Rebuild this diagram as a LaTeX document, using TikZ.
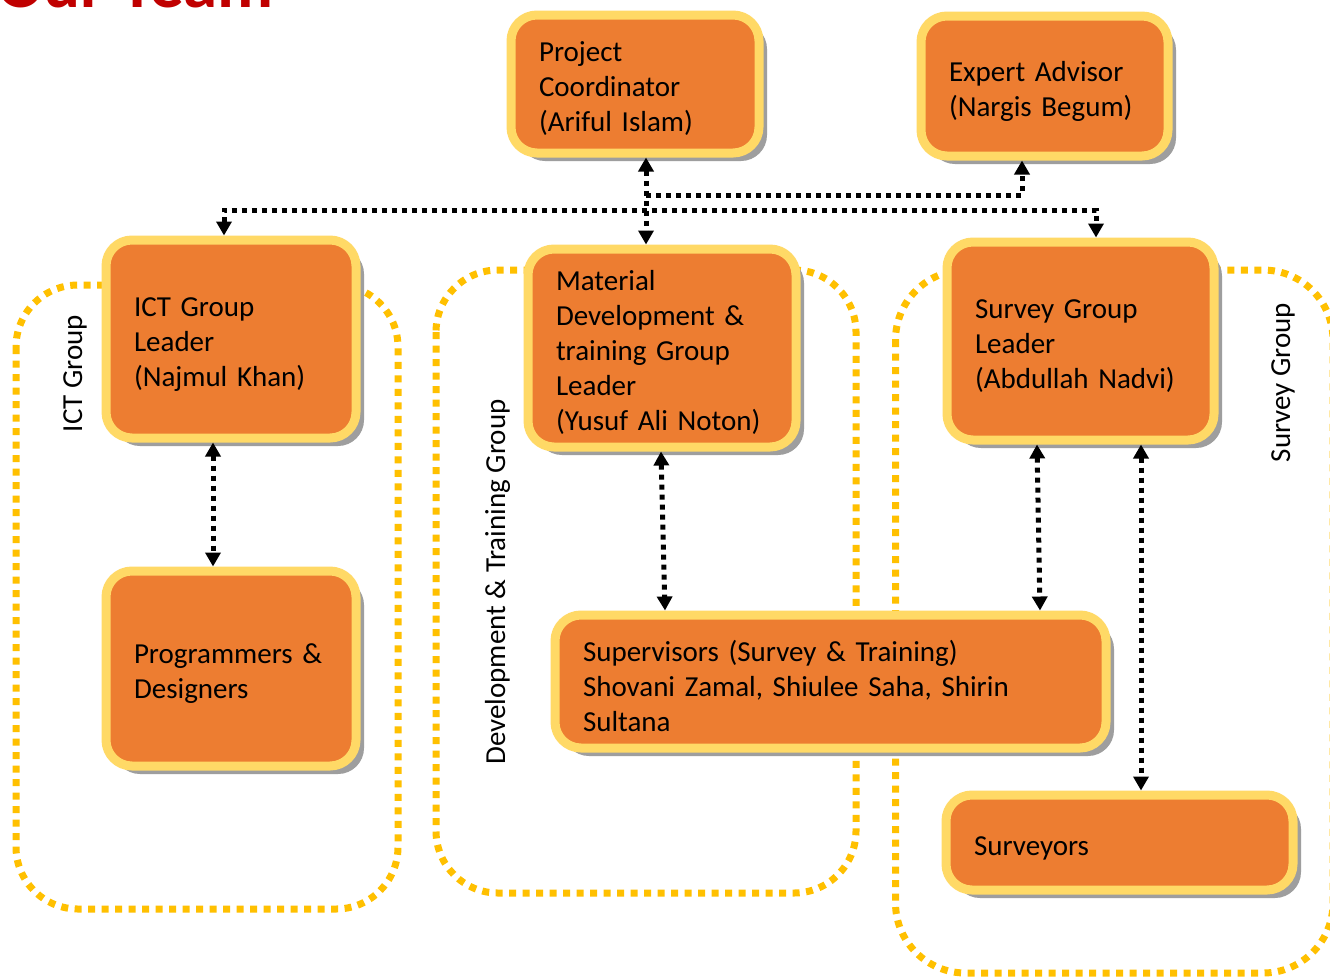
\documentclass[tikz,border=0pt]{standalone}
\usepackage{fontspec}
\setmainfont{Carlito}
\usetikzlibrary{arrows.meta,shadows}
\definecolor{boxorange}{HTML}{ED7D31}
\definecolor{boxyellow}{HTML}{FFD966}
\definecolor{groupyellow}{HTML}{FFC000}
\definecolor{titlered}{HTML}{C00000}
\begin{document}
\begin{tikzpicture}[x=1pt,y=-1pt,
    >={Triangle[width=15pt,length=14pt]},
    member/.style={draw=boxyellow, fill=boxorange, line width=9pt,
      rounded corners=26pt, align=left, inner xsep=28pt, inner ysep=0pt,
      font=\fontsize{29}{35}\selectfont, execute at begin node={\rule{0pt}{30pt}},
      drop shadow={shadow xshift=8pt, shadow yshift=-8pt, fill=black!38, opacity=1}},
    group/.style={draw=groupyellow, line width=7pt, dash pattern=on 7pt off 6.5pt},
    grouplabel/.style={rotate=90, anchor=base, inner sep=0pt, font=\fontsize{29}{35}\selectfont},
    link/.style={line width=5pt, dash pattern=on 5pt off 5pt}]
      \useasboundingbox[fill=white] (0,0) rectangle (1330,978);
      \node[anchor=base west, inner sep=0pt, text=titlered,
        font=\fontsize{69}{72}\selectfont\bfseries] (title) at (-3,7) {Our Team};
      % groups
      \draw[group, rounded corners=62pt] (16,285) rectangle (398,909);
      \draw[group, rounded corners=62pt] (436,270) rectangle (856,893);
      \draw[group, rounded corners=70pt] (895.5,270) rectangle (1333,973);
      \node[grouplabel] (ictgroup) at (82,373.5) {ICT Group};
      \node[grouplabel] (devgroup) at (505,582) {Development \& Training Group};
      \node[grouplabel] (survgroup) at (1290,382.5) {Survey Group};
      % members
      \node[member, text width=192pt, minimum height=138pt] (coord) at (635,84)
        {Project\\Coordinator\\(Ariful Islam)};
      \node[member, text width=191pt, minimum height=140pt] (expert) at (1044.5,86)
        {Expert Advisor\\(Nargis Begum)};
      \node[member, text width=194pt, minimum height=198pt] (ictlead) at (231,339)
        {ICT Group\\Leader\\(Najmul Khan)};
      \node[member, text width=212pt, minimum height=198pt] (matlead) at (662,348)
        {Material\\Development \&\\training Group\\Leader\\(Yusuf Ali Noton)};
      \node[member, text width=211pt, minimum height=198pt] (survlead) at (1080.5,341)
        {Survey Group\\Leader\\(Abdullah Nadvi)};
      \node[member, text width=194pt, minimum height=195pt] (prog) at (231,668.5)
        {Programmers \&\\Designers};
      \node[member, text width=495pt, minimum height=133pt] (superv) at (830.5,681.5)
        {Supervisors (Survey \& Training)\\Shovani Zamal, Shiulee Saha, Shirin\\Sultana};
      \node[member, text width=291pt, minimum height=95pt] (surveyors) at (1119.5,842.5)
        {Surveyors};
      \coordinate (hub) at (646,195);
      \coordinate (expturn) at (1022,195);
      \coordinate (busL) at (224,210);
      \coordinate (busR) at (1096,210);
      \begin{scope}[link]
        \draw[<->] (coord.south -| hub) -- (matlead.north -| hub);
        \draw[->] (hub) -- (expturn) -- (expert.south -| expturn);
        \draw[<->] (ictlead.north -| busL) -- (busL) -- (busR) -- (survlead.north -| busR);
        \draw[<->] ([xshift=-18pt]ictlead.south) -- ([xshift=-18pt]prog.north);
        \draw[<->] ([xshift=-1pt]matlead.south) -- ([xshift=-165.5pt]superv.north);
        \draw[<->] ([xshift=-43.5pt]survlead.south) -- ([xshift=209.5pt]superv.north);
        \draw[<->] ([xshift=60.5pt]survlead.south) -- ([xshift=21.5pt]surveyors.north);
      \end{scope}
    \end{tikzpicture}
\end{document}
